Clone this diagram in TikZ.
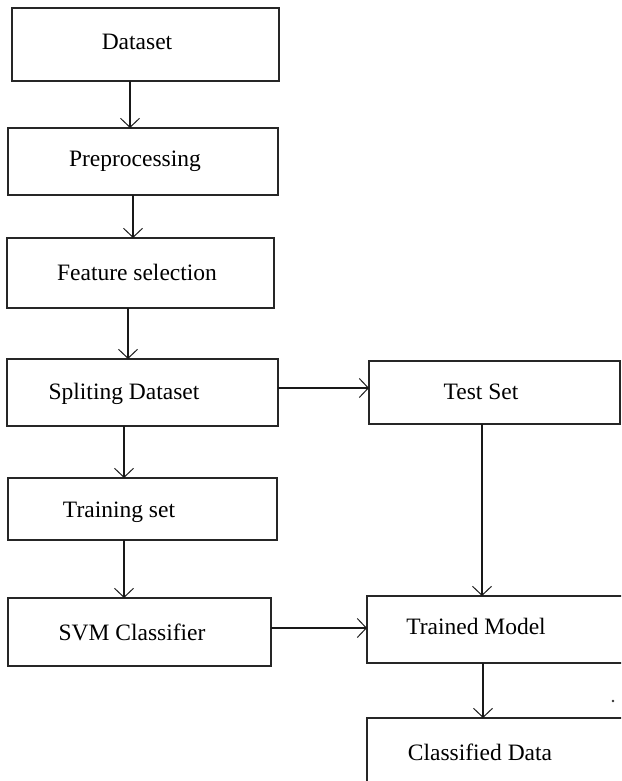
\documentclass[tikz,border=0pt]{standalone}
\usepackage{fontspec}
\setmainfont{Liberation Serif}
\usetikzlibrary{arrows.meta}
\begin{document}
\begin{tikzpicture}[x=1pt,y=-1pt,
  box/.style={draw=black!85, line width=1.4pt, inner sep=0pt, outer sep=0pt, rectangle},
  lbl/.style={anchor=base, inner sep=0pt, font=\fontsize{23.5}{28}\selectfont},
  arr/.style={draw=black!90, line width=1.3pt, -{Straight Barb[length=9pt,width=19pt,line width=1pt]}}]
\useasboundingbox (0,0) rectangle (621,781);
\clip (0,0) rectangle (621,781);
% boxes
\node[box, minimum width=267pt, minimum height=73pt] (dataset) at (145.5,44.5) {};
\node[box, minimum width=270pt, minimum height=67pt] (prep) at (143,161.5) {};
\node[box, minimum width=267pt, minimum height=70pt] (feat) at (140.5,273) {};
\node[box, minimum width=271pt, minimum height=67pt] (split) at (142.5,392.5) {};
\node[box, minimum width=251pt, minimum height=63pt] (test) at (494.5,392.5) {};
\node[box, minimum width=269pt, minimum height=62pt] (train) at (142.5,509) {};
\node[box, minimum width=263pt, minimum height=68pt] (svm) at (139.5,632) {};
\node[box, minimum width=273pt, minimum height=67pt] (trained) at (503.5,629.5) {};
\node[box, minimum width=273pt, minimum height=82pt] (classified) at (503.5,759) {};
% labels
\node[lbl] (tdataset) at (137,49.5) {Dataset};
\node[lbl] (tprep) at (135,166.5) {Preprocessing};
\node[lbl] (tfeat) at (137,280.5) {Feature selection};
\node[lbl] (tsplit) at (124,399.5) {Spliting Dataset};
\node[lbl] (ttest) at (481,399.5) {Test Set};
\node[lbl] (ttrain) at (119,517.5) {Training set};
\node[lbl] (tsvm) at (132,640.5) {SVM Classifier};
\node[lbl] (ttrained) at (476,634.5) {Trained Model};
\node[lbl] (tclassified) at (480,760.5) {Classified Data};
% connectors
\draw[arr] (dataset.south -| 130,0) -- (prep.north -| 130,0);
\draw[arr] (prep.south -| 133,0) -- (feat.north -| 133,0);
\draw[arr] (feat.south -| 128,0) -- (split.north -| 128,0);
\draw[arr] (split.south -| 124,0) -- (train.north -| 124,0);
\draw[arr] (train.south -| 124,0) -- (svm.north -| 124,0);
\draw[arr] (split.east |- 0,388) -- (test.west |- 0,388);
\draw[arr] (test.south -| 482,0) -- (trained.north -| 482,0);
\draw[arr] (svm.east |- 0,628) -- (trained.west |- 0,628);
\draw[arr] (trained.south -| 483,0) -- (classified.north -| 483,0);
% stray dot
\fill[black!80] (613,701) circle (1.4pt);
\end{tikzpicture}
\end{document}
